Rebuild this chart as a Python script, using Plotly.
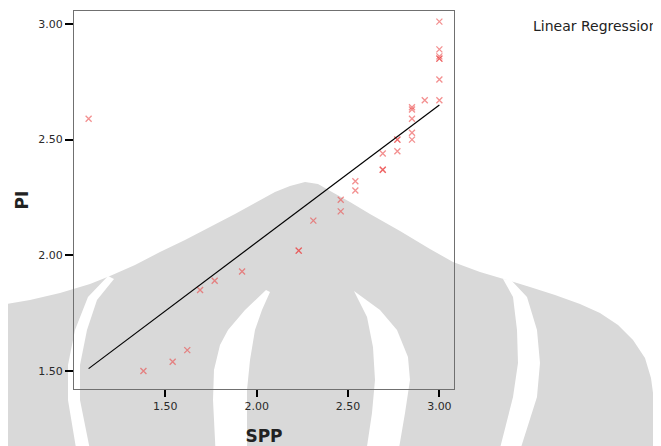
import plotly.graph_objects as go

# Data
spp = [1.08, 1.38, 1.54, 1.62, 1.69, 1.77, 1.92, 2.23, 2.23, 2.31,
       2.46, 2.46, 2.54, 2.54, 2.69, 2.69, 2.69, 2.77, 2.77, 2.77,
       2.85, 2.85, 2.85, 2.85, 2.85, 2.92, 3.00, 3.00, 3.00, 3.00,
       3.00, 3.00, 3.00]
pi = [2.59, 1.50, 1.54, 1.59, 1.85, 1.89, 1.93, 2.02, 2.02, 2.15,
      2.19, 2.24, 2.28, 2.32, 2.37, 2.37, 2.44, 2.45, 2.50, 2.50,
      2.50, 2.53, 2.59, 2.63, 2.64, 2.67, 2.67, 2.76, 2.85, 2.85,
      2.86, 2.89, 3.01]
fit_x = [1.08, 3.00]
fit_y = [1.51, 2.65]
tick_vals = [1.50, 2.00, 2.50, 3.00]
tick_text = ["1.50", "2.00", "2.50", "3.00"]

# page has an 8px body margin; figure is placed at (8, 8)
OFF = 8
W, H = 661 - OFF, 446 - OFF
L, R, T, B = 74 - OFF, 207, 11 - OFF, 57
PW, PH = W - L - R, H - T - B


def px(x, y):
    # page pixel -> paper coordinates
    return (x - OFF - L) / PW, (H - B - (y - OFF)) / PH


def path(points):
    parts = []
    for i, (x, y) in enumerate(points):
        a, b = px(x, y)
        parts.append(("M" if i == 0 else "L") + f"{a:.4f},{b:.4f}")
    return " ".join(parts) + " Z"


# background watermark (decoration)
dome = [(-5, 460), (-5, 306), (30, 300), (60, 293), (90, 284), (110, 276),
        (135, 265), (160, 252), (185, 240), (210, 227), (235, 214),
        (255, 203), (275, 192), (290, 186), (305, 182), (318, 184),
        (332, 192), (350, 202), (370, 214), (400, 231), (430, 249),
        (453, 262), (480, 272), (507, 280), (530, 287), (555, 295),
        (580, 304), (600, 313), (618, 325), (633, 340), (645, 358),
        (651, 378), (654, 400), (655, 460)]
s1 = [(108, 276), (88, 297), (75, 330), (68, 365), (68, 400), (78, 460),
      (92, 460), (80, 400), (80, 365), (87, 330), (97, 300), (114, 279)]
s2 = [(266, 290), (245, 310), (228, 330), (220, 345), (214, 370), (213, 400),
      (216, 460), (247, 460), (247, 390), (250, 360), (255, 330), (262, 310),
      (270, 292)]
s3 = [(354, 291), (367, 317), (373, 347), (375, 380), (372, 413), (365, 460),
      (397, 460), (405, 413), (410, 380), (408, 357), (397, 330), (380, 310)]
s4 = [(503, 279), (513, 297), (517, 330), (518, 363), (513, 397), (497, 460),
      (517, 460), (537, 397), (540, 363), (537, 330), (527, 297), (511, 280)]

shapes = [dict(type="path", xref="paper", yref="paper", path=path(dome),
               fillcolor="#d9d9d9", line=dict(width=0), layer="below")]
for s in (s1, s2, s3, s4):
    shapes.append(dict(type="path", xref="paper", yref="paper", path=path(s),
                       fillcolor="#ffffff", line=dict(width=0), layer="below"))

mk_col = "rgba(235,70,70,0.6)"
fig = go.Figure()
fig.add_trace(go.Scatter(
    x=spp, y=pi, mode="markers",
    marker=dict(symbol="x-thin-open", size=6, color=mk_col,
                line=dict(color=mk_col, width=1.3)),
    showlegend=False))
fig.add_trace(go.Scatter(
    x=fit_x, y=fit_y, mode="lines",
    line=dict(color="black", width=1.2), showlegend=False))

ax, ay = px(531, 26)
fig.update_layout(
    width=W, height=H,
    margin=dict(l=L, r=R, t=T, b=B, autoexpand=False),
    paper_bgcolor="white", plot_bgcolor="rgba(0,0,0,0)",
    shapes=shapes,
    font=dict(family="DejaVu Sans", size=11, color="#2a2a2a"),
    annotations=[dict(text="Linear Regression", xref="paper", yref="paper",
                      x=ax, y=ay, xanchor="left", yanchor="middle",
                      showarrow=False,
                      font=dict(family="DejaVu Sans", size=14, color="#222222"))],
)
fig.update_xaxes(
    range=[1.0, 3.08], tickvals=tick_vals, ticktext=tick_text,
    ticks="outside", ticklen=7, tickwidth=2, tickcolor="black",
    showline=True, mirror=True, linecolor="#707070", linewidth=1,
    showgrid=False, zeroline=False, automargin=False,
    title=dict(text="<b>SPP</b>", font=dict(family="DejaVu Sans", size=17, color="#222222"),
               standoff=18))
fig.update_yaxes(
    range=[1.422, 3.056], tickvals=tick_vals, ticktext=tick_text,
    ticks="outside", ticklen=8, tickwidth=2, tickcolor="black",
    showline=True, mirror=True, linecolor="#707070", linewidth=1,
    showgrid=False, zeroline=False, automargin=False,
    title=dict(text="<b>PI</b>", font=dict(family="DejaVu Sans", size=17, color="#222222"),
               standoff=5))

fig.write_html("out.html")
